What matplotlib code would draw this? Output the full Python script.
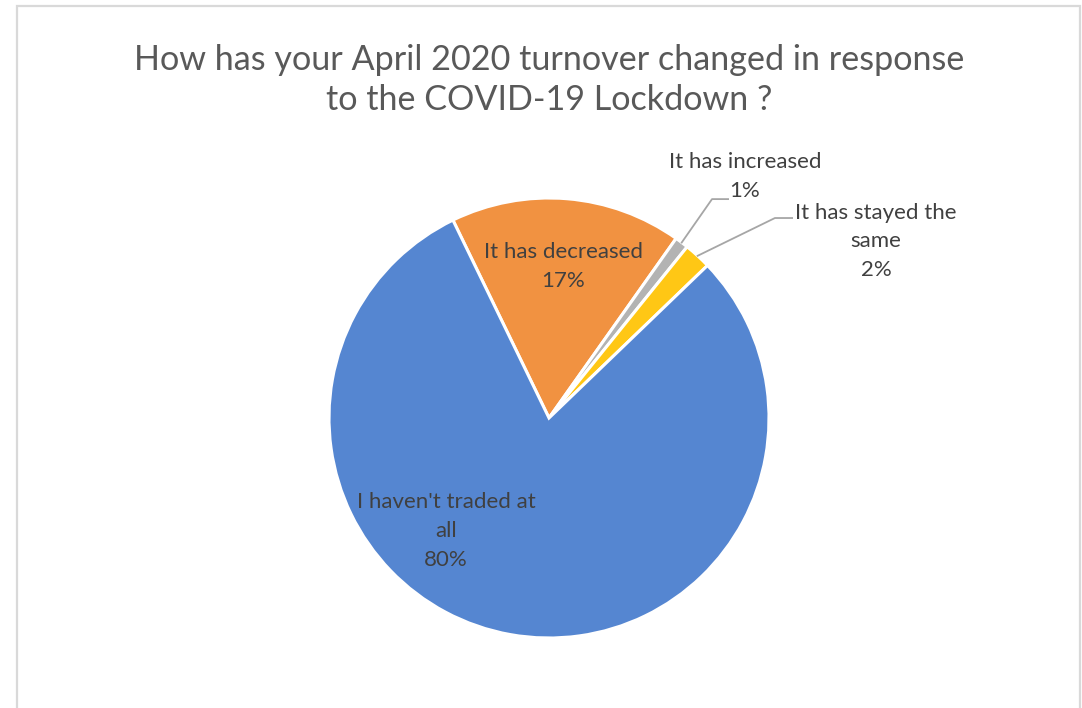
import numpy as np
import matplotlib.pyplot as plt
from matplotlib.patches import Rectangle

plt.rcParams['font.family'] = ['Lato', 'DejaVu Sans']

labels = ['It has decreased', 'It has increased', 'It has stayed the\nsame', "I haven't traded at\nall"]
shares = [17, 1, 2, 80]
colors = ['#F19241', '#B3B3B3', '#FFC715', '#5586D1']
start = 115.9

fig = plt.figure(figsize=(10.82, 7.08), dpi=100)
fig.patch.set_facecolor('white')

# light grey chart-area frame
fig.patches.append(Rectangle((17 / 1082, -0.01), (1080 - 17) / 1082, 1 - 5.5 / 708 + 0.01,
                             transform=fig.transFigure, fill=False,
                             edgecolor='#D9D9D9', linewidth=1.6))

fig.text(549 / 1082, 1 - 80 / 708,
         'How has your April 2020 turnover changed in response\nto the COVID-19 Lockdown ?',
         ha='center', va='center', fontsize=24.6, color='#595959', linespacing=1.31)

ax = fig.add_axes([(549 - 220) / 1082, (708 - 638) / 708, 440 / 1082, 440 / 708])
wedges, _ = ax.pie(shares, colors=colors, startangle=start, counterclock=False,
                   radius=1, wedgeprops=dict(edgecolor='white', linewidth=2.2))
ax.set_xlim(-1, 1)
ax.set_ylim(-1, 1)
ax.set_aspect('equal')
ax.axis('off')

txt = dict(ha='center', va='center', fontsize=16, color='#404040', linespacing=1.55)
pct = ['%d%%' % s for s in shares]

# labels inside the big slices
ax.text(0.064, 0.69, labels[0] + '\n' + pct[0], **txt)
ax.text(-0.468, -0.515, labels[3] + '\n' + pct[3], **txt)

# small slices get leader lines to labels outside the pie
angles = []
a = start
for s in shares:
    angles.append(a - s * 3.6 / 2)
    a -= s * 3.6
outside = [(1, (0.891, 1.097), (0.814, 0.995), (0.741, 0.995)),
           (2, (1.486, 0.803), (1.105, 0.909), (1.027, 0.909))]
for i, pos, p0, p1 in outside:
    th = np.radians(angles[i])
    ax.plot([p0[0], p1[0], np.cos(th)], [p0[1], p1[1], np.sin(th)],
            color='#A6A6A6', linewidth=1.3, clip_on=False)
    ax.text(pos[0], pos[1], labels[i] + '\n' + pct[i], **txt)

fig.savefig('out.png', dpi=100)
